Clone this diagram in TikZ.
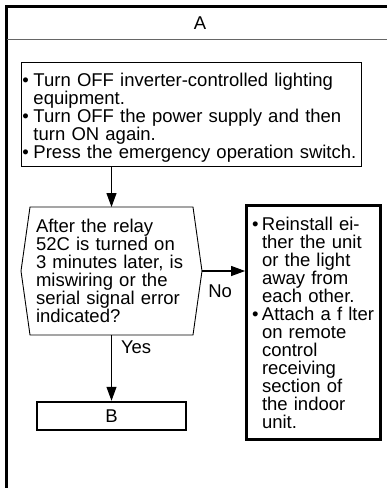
\documentclass[tikz,border=0pt]{standalone}
\usepackage{fontspec}
\setmainfont{Liberation Sans}
\usepackage{tikz}
\usetikzlibrary{arrows.meta, positioning}

\newcommand{\bul}[1][11pt]{\makebox[#1][l]{•}}
\newcommand{\ind}[1][11pt]{\hspace*{#1}}

\begin{document}
\begin{tikzpicture}[
    x=1pt, y=-1pt,
    font=\fontsize{18.5pt}{18pt}\selectfont,
    block/.style={rectangle, draw, line width=0.9pt, align=left},
    thickblock/.style={rectangle, draw, line width=2.8pt, align=left},
    arrow/.style={line width=1.1pt, -{Triangle[length=14pt,width=10pt]}},
    frame/.style={line width=2.6pt}
]
    \useasboundingbox (0,0) rectangle (387,488);

    % Frame
    \draw [frame] (6.5,488) -- (6.5,6.5) -- (387,6.5);
    \draw [line width=1.2pt, black!60] (6.5,39.5) -- (387,39.5);

    % Nodes
    \node (prev) at (200,23) {A};
    \node [block, text width=337pt, inner xsep=1.5pt, minimum width=340pt, minimum height=104pt] (steps) at (191,114)
        {\rule{0pt}{20.5pt}\bul Turn OFF inverter-controlled lighting\\
         \ind equipment.\\
         \bul Turn OFF the power supply and then\\
         \ind turn ON again.\\
         \bul Press the emergency operation switch.};
    \node [text width=151pt, inner xsep=15pt, outer sep=0pt, minimum width=181pt, minimum height=128pt, align=left] (query) at (111.5,271)
        {After the relay\\ 52C is turned on\\ 3 minutes later, is\\ miswiring or the\\ serial signal error\\ indicated?};
    \draw [line width=0.9pt] ([xshift=9pt]query.north west) -- ([xshift=-9pt]query.north east) -- (query.east)
        -- ([xshift=-9pt]query.south east) -- ([xshift=9pt]query.south west) -- (query.west) -- cycle;
    \node [thickblock, text width=123pt, inner xsep=5.5pt, minimum width=134pt, minimum height=234pt] (fix) at (313.5,322.5)
        {\bul[10pt]Reinstall ei-\\ \ind[10pt]ther the unit\\ \ind[10pt]or the light\\ \ind[10pt]away from\\
         \ind[10pt]each other.\\ \bul[10pt]Attach a f lter\\ \ind[10pt]on remote\\ \ind[10pt]control\\
         \ind[10pt]receiving\\ \ind[10pt]section of\\ \ind[10pt]the indoor\\ \ind[10pt]unit.};
    \node [thickblock, line width=2.5pt, minimum width=149pt, minimum height=28pt] (next) at (111.5,416) {B};

    % Arrows
    \draw [arrow] (steps.south -| query.north) -- (query.north);
    \draw [arrow] (query.east) -- node [pos=0.42, below=13.5pt, inner sep=0pt] {No} (query.east -| fix.west);
    \draw [arrow] (query.south) -- node [pos=0.18, right=9pt, inner sep=0pt] {Yes} (next.north);

\end{tikzpicture}
\end{document}
